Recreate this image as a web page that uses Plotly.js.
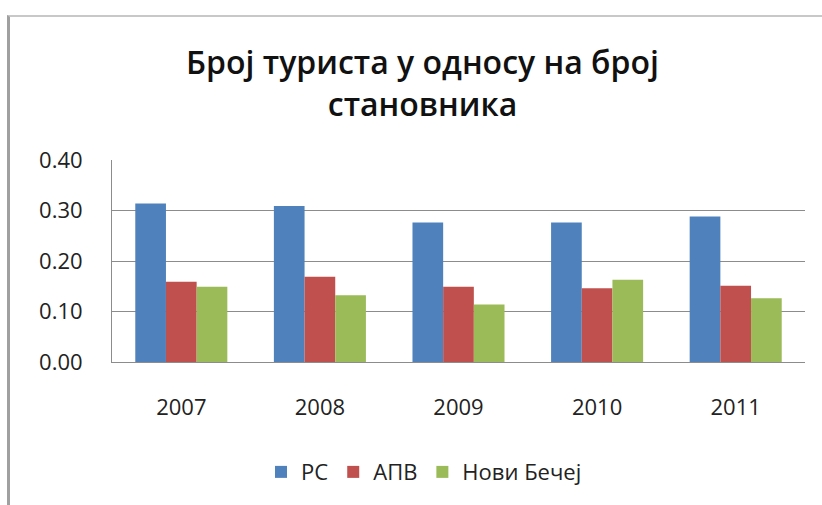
<!DOCTYPE html>
<html><head><meta charset="utf-8">
<script src="https://cdn.plot.ly/plotly-3.0.1.min.js"></script>
<style>
html,body{margin:0;padding:0;background:#fff;}
#frame{position:absolute;left:7px;top:15px;width:815px;height:490px;border-left:3px solid #a0a0a0;border-top:2px solid #c8c8c8;box-sizing:border-box;}
#chart{position:absolute;left:0;top:0;width:822px;height:505px;}
</style></head>
<body>
<div id="frame"></div>
<div id="chart"></div>
<script>
const years = ['2007','2008','2009','2010','2011'];
const seriesNames = ['РС','АПВ','Нови Бечеј'];
const rs = [0.314, 0.309, 0.276, 0.276, 0.288];
const apv = [0.159, 0.169, 0.149, 0.146, 0.151];
const noviBecej = [0.149, 0.132, 0.114, 0.163, 0.126];
const yTicks = [0, 0.1, 0.2, 0.3, 0.4];
const yTickText = ['0.00','0.10','0.20','0.30','0.40'];
const colors = ['#4F81BD','#C0504D','#9BBB59'];
const values = [rs, apv, noviBecej];

const traces = values.map((v,i)=>({
  type:'bar', x:years, y:v, name:seriesNames[i],
  marker:{color:colors[i]}, hoverinfo:'none'
}));
const font = {family:'"Open Sans", "Noto Sans", sans-serif', color:'#222', size:22};
Plotly.newPlot('chart', traces, {
  width:822, height:505,
  paper_bgcolor:'rgba(0,0,0,0)', plot_bgcolor:'rgba(0,0,0,0)',
  margin:{l:112, r:17, t:160, b:143},
  title:{text:'Број туриста у односу на број<br>становника', x:0.514, xanchor:'center', yref:'container', y:0.853, yanchor:'middle',
    font:{family:'"Open Sans", sans-serif', size:32, weight:600, color:'#111', lineposition:'none'}},
  font:font,
  barmode:'group', bargap:0.336, bargroupgap:0,
  xaxis:{showline:true, linecolor:'#8c8c8c', linewidth:1, ticks:'', tickfont:font, ticklabelstandoff:26, fixedrange:true},
  yaxis:{range:[0,0.4], tickvals:yTicks, ticktext:yTickText, showgrid:true, gridcolor:'#8c8c8c', gridwidth:1,
    showline:true, linecolor:'#8c8c8c', ticks:'', tickfont:font, ticklabelstandoff:24, zeroline:false, fixedrange:true},
  showlegend:true,
  legend:{orientation:'h', x:0.215, xanchor:'left', y:-0.545, yanchor:'middle', font:font, itemwidth:30, tracegroupgap:0}
}, {displayModeBar:false, staticPlot:true});
</script>
</body></html>
